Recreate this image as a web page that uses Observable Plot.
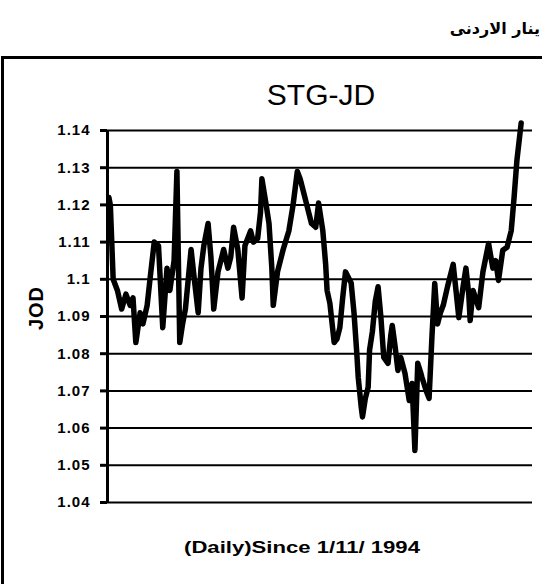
<!DOCTYPE html>
<html>
<head>
<meta charset="utf-8">
<script src="https://cdn.jsdelivr.net/npm/d3@7"></script>
<script src="https://cdn.jsdelivr.net/npm/@observablehq/plot@0.6"></script>
<style>
  html, body { margin: 0; padding: 0; background: #fff; }
  #wrap { position: relative; width: 542px; height: 584px; overflow: hidden; background: #fff; font-family: "Liberation Sans", Arial, sans-serif; color: #000; }
  #frame { position: absolute; left: 1px; top: 56px; width: 600px; height: 600px; border-left: 3px solid #000; border-top: 3px solid #000; }
  #arabic { position: absolute; right: 2px; top: 19px; font-family: "DejaVu Sans", "Noto Sans", sans-serif; font-weight: bold; font-size: 16px; direction: rtl; }
  #title { position: absolute; left: 321px; top: 78px; transform: translateX(-50%); font-size: 30px; line-height: 34px; white-space: nowrap; }
  #ylabel { position: absolute; left: 36px; top: 308px; transform: translate(-50%, -50%) rotate(-90deg); font-weight: bold; font-size: 20px; letter-spacing: 1px; white-space: nowrap; }
  #caption { position: absolute; left: 302px; top: 538px; transform: translateX(-50%) scaleX(1.3); font-weight: bold; font-size: 17px; white-space: nowrap; }
  #chart { position: absolute; left: 0; top: 0; }
</style>
</head>
<body>
<div id="wrap">
  <div id="arabic">ينار الاردنى</div>
  <div id="frame"></div>
  <div id="chart"></div>
  <div id="title">STG-JD</div>
  <div id="ylabel">JOD</div>
  <div id="caption">(Daily)Since 1/11/ 1994</div>
</div>
<script>
// Trading-day index since 1/11/1994
const days = [1,2,4,7,10,13,16,18,20,23,25,28,30,33,36,39,42,44,47,49,51,53,55,57,59,61,64,66,68,71,73,75,78,82,85,87,89,92,95,97,101,103,106,108,109,112,114,116,117,120,124,128,131,134,136,138,140,142,144,147,149,152,154,155,157,160,162,164,166,168,172,174,176,177,179,180,182,184,185,187,189,191,193,195,198,200,201,203,205,207,210,213,215,217,219,221,222,225,227,229,231,233,235,237,240,244,246,248,251,253,255,256,258,262,265,269,272,274,276,279,282,285,287,289,292];
// STG-JD rate
const rates = [1.122,1.120,1.100,1.097,1.092,1.096,1.093,1.095,1.083,1.091,1.088,1.093,1.100,1.110,1.109,1.087,1.103,1.097,1.105,1.129,1.083,1.088,1.092,1.100,1.108,1.101,1.091,1.103,1.109,1.115,1.106,1.092,1.102,1.108,1.103,1.106,1.114,1.108,1.095,1.109,1.113,1.110,1.111,1.118,1.127,1.120,1.115,1.103,1.093,1.102,1.108,1.113,1.120,1.129,1.127,1.124,1.121,1.118,1.115,1.114,1.1205,1.113,1.104,1.097,1.0935,1.083,1.084,1.087,1.095,1.102,1.099,1.091,1.080,1.0736,1.066,1.063,1.068,1.071,1.081,1.086,1.094,1.098,1.0897,1.079,1.0774,1.085,1.0876,1.082,1.0755,1.079,1.0747,1.0674,1.072,1.054,1.0774,1.075,1.0736,1.070,1.068,1.0844,1.0989,1.088,1.091,1.093,1.098,1.104,1.097,1.0897,1.098,1.103,1.096,1.0889,1.097,1.0924,1.102,1.1096,1.103,1.105,1.0997,1.1078,1.1086,1.1131,1.122,1.132,1.142];
// Y-axis tick values
const yTicks = [1.04,1.05,1.06,1.07,1.08,1.09,1.10,1.11,1.12,1.13,1.14];

const data = days.map((d, i) => ({day: d, rate: rates[i]}));

const chart = Plot.plot({
  width: 542,
  height: 584,
  marginTop: 130,
  marginBottom: 82,
  marginLeft: 107,
  marginRight: 10,
  style: {fontFamily: "'Liberation Sans', Arial, sans-serif", fontSize: "15px", fontWeight: "bold", color: "#000", background: "transparent", overflow: "visible", letterSpacing: "1px"},
  x: {domain: [0, 300], axis: null},
  y: {domain: [1.04, 1.14], label: null},
  marks: [
    Plot.gridY(yTicks, {stroke: "#000", strokeOpacity: 1, strokeWidth: 2}),
    Plot.axisY({ticks: yTicks, tickSize: 7, tickPadding: 10, tickFormat: d => String(+d.toFixed(2)), stroke: "#000", strokeWidth: 3, label: null, fontSize: 15, fontWeight: "bold"}),
    Plot.ruleX([0], {stroke: "#000", strokeWidth: 3}),
    Plot.line(data, {x: "day", y: "rate", stroke: "#000", strokeWidth: 5.5, strokeLinejoin: "round", strokeLinecap: "round"})
  ]
});
document.getElementById("chart").appendChild(chart);
</script>
</body>
</html>
